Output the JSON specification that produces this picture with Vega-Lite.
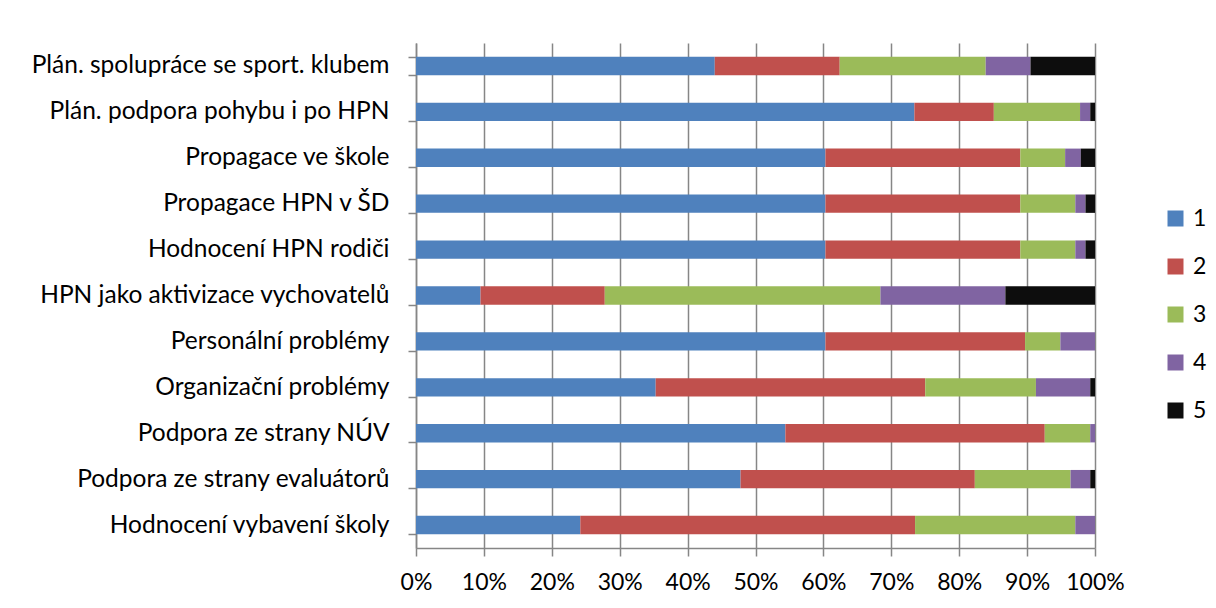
{
  "$schema": "https://vega.github.io/schema/vega-lite/v6.json",
  "width": 679,
  "height": 505,
  "autosize": "none",
  "padding": {"left": 416, "top": 43, "right": 121, "bottom": 60},
  "background": "white",
  "config": {
    "view": {"stroke": null},
    "font": "Lato"
  },
  "data": {
    "values": [
      {"q": "Plán. spolupráce se sport. klubem", "c": "1", "v": 44.0},
      {"q": "Plán. spolupráce se sport. klubem", "c": "2", "v": 18.4},
      {"q": "Plán. spolupráce se sport. klubem", "c": "3", "v": 21.5},
      {"q": "Plán. spolupráce se sport. klubem", "c": "4", "v": 6.6},
      {"q": "Plán. spolupráce se sport. klubem", "c": "5", "v": 9.5},
      {"q": "Plán. podpora pohybu i po HPN", "c": "1", "v": 73.4},
      {"q": "Plán. podpora pohybu i po HPN", "c": "2", "v": 11.7},
      {"q": "Plán. podpora pohybu i po HPN", "c": "3", "v": 12.7},
      {"q": "Plán. podpora pohybu i po HPN", "c": "4", "v": 1.5},
      {"q": "Plán. podpora pohybu i po HPN", "c": "5", "v": 0.7},
      {"q": "Propagace ve škole", "c": "1", "v": 60.3},
      {"q": "Propagace ve škole", "c": "2", "v": 28.7},
      {"q": "Propagace ve škole", "c": "3", "v": 6.6},
      {"q": "Propagace ve škole", "c": "4", "v": 2.3},
      {"q": "Propagace ve škole", "c": "5", "v": 2.1},
      {"q": "Propagace HPN v ŠD", "c": "1", "v": 60.3},
      {"q": "Propagace HPN v ŠD", "c": "2", "v": 28.7},
      {"q": "Propagace HPN v ŠD", "c": "3", "v": 8.1},
      {"q": "Propagace HPN v ŠD", "c": "4", "v": 1.5},
      {"q": "Propagace HPN v ŠD", "c": "5", "v": 1.4},
      {"q": "Hodnocení HPN rodiči", "c": "1", "v": 60.3},
      {"q": "Hodnocení HPN rodiči", "c": "2", "v": 28.7},
      {"q": "Hodnocení HPN rodiči", "c": "3", "v": 8.1},
      {"q": "Hodnocení HPN rodiči", "c": "4", "v": 1.5},
      {"q": "Hodnocení HPN rodiči", "c": "5", "v": 1.4},
      {"q": "HPN jako aktivizace vychovatelů", "c": "1", "v": 9.5},
      {"q": "HPN jako aktivizace vychovatelů", "c": "2", "v": 18.3},
      {"q": "HPN jako aktivizace vychovatelů", "c": "3", "v": 40.6},
      {"q": "HPN jako aktivizace vychovatelů", "c": "4", "v": 18.4},
      {"q": "HPN jako aktivizace vychovatelů", "c": "5", "v": 13.2},
      {"q": "Personální problémy", "c": "1", "v": 60.3},
      {"q": "Personální problémy", "c": "2", "v": 29.4},
      {"q": "Personální problémy", "c": "3", "v": 5.2},
      {"q": "Personální problémy", "c": "4", "v": 5.1},
      {"q": "Personální problémy", "c": "5", "v": 0},
      {"q": "Organizační problémy", "c": "1", "v": 35.3},
      {"q": "Organizační problémy", "c": "2", "v": 39.7},
      {"q": "Organizační problémy", "c": "3", "v": 16.3},
      {"q": "Organizační problémy", "c": "4", "v": 8.0},
      {"q": "Organizační problémy", "c": "5", "v": 0.7},
      {"q": "Podpora ze strany NÚV", "c": "1", "v": 54.4},
      {"q": "Podpora ze strany NÚV", "c": "2", "v": 38.2},
      {"q": "Podpora ze strany NÚV", "c": "3", "v": 6.7},
      {"q": "Podpora ze strany NÚV", "c": "4", "v": 0.7},
      {"q": "Podpora ze strany NÚV", "c": "5", "v": 0},
      {"q": "Podpora ze strany evaluátorů", "c": "1", "v": 47.8},
      {"q": "Podpora ze strany evaluátorů", "c": "2", "v": 34.5},
      {"q": "Podpora ze strany evaluátorů", "c": "3", "v": 14.1},
      {"q": "Podpora ze strany evaluátorů", "c": "4", "v": 2.9},
      {"q": "Podpora ze strany evaluátorů", "c": "5", "v": 0.7},
      {"q": "Hodnocení vybavení školy", "c": "1", "v": 24.2},
      {"q": "Hodnocení vybavení školy", "c": "2", "v": 49.3},
      {"q": "Hodnocení vybavení školy", "c": "3", "v": 23.6},
      {"q": "Hodnocení vybavení školy", "c": "4", "v": 2.9},
      {"q": "Hodnocení vybavení školy", "c": "5", "v": 0}
    ]
  },
  "mark": {"type": "bar"},
  "encoding": {
    "y": {
      "field": "q",
      "type": "nominal",
      "sort": null,
      "scale": {"paddingInner": 0.6, "paddingOuter": 0.3},
      "axis": {
        "title": null,
        "labelFontSize": 24.5,
        "labelColor": "#000000",
        "labelLimit": 420,
        "tickBand": "extent",
        "tickSize": 8,
        "tickColor": "#868686",
        "tickWidth": 1.5,
        "domainColor": "#868686",
        "domainWidth": 1.5,
        "labelPadding": 19
      }
    },
    "x": {
      "field": "v",
      "type": "quantitative",
      "stack": "normalize",
      "scale": {"domain": [0, 1], "nice": false},
      "axis": {
        "title": null,
        "format": ".0%",
        "values": [0, 0.1, 0.2, 0.3, 0.4, 0.5, 0.6, 0.7, 0.8, 0.9, 1],
        "labelFontSize": 23,
        "labelColor": "#000000",
        "grid": true,
        "gridColor": "#868686",
        "gridWidth": 1.5,
        "tickColor": "#868686",
        "tickWidth": 1.5,
        "tickSize": 8,
        "domainColor": "#868686",
        "domainWidth": 1.5,
        "labelPadding": 15,
        "labelFlush": false,
        "labelOverlap": false
      }
    },
    "color": {
      "field": "c",
      "type": "nominal",
      "scale": {
        "domain": ["1", "2", "3", "4", "5"],
        "range": ["#4F81BD", "#C0504D", "#9BBB59", "#8064A2", "#0D0D0D"]
      },
      "legend": {
        "title": null,
        "orient": "none",
        "legendX": 748,
        "legendY": 164,
        "symbolType": "square",
        "symbolSize": 256,
        "symbolStrokeWidth": 0,
        "labelFontSize": 23,
        "labelColor": "#000000",
        "rowPadding": 24,
        "labelOffset": 6
      }
    },
    "order": {"field": "c", "type": "nominal"}
  }
}
